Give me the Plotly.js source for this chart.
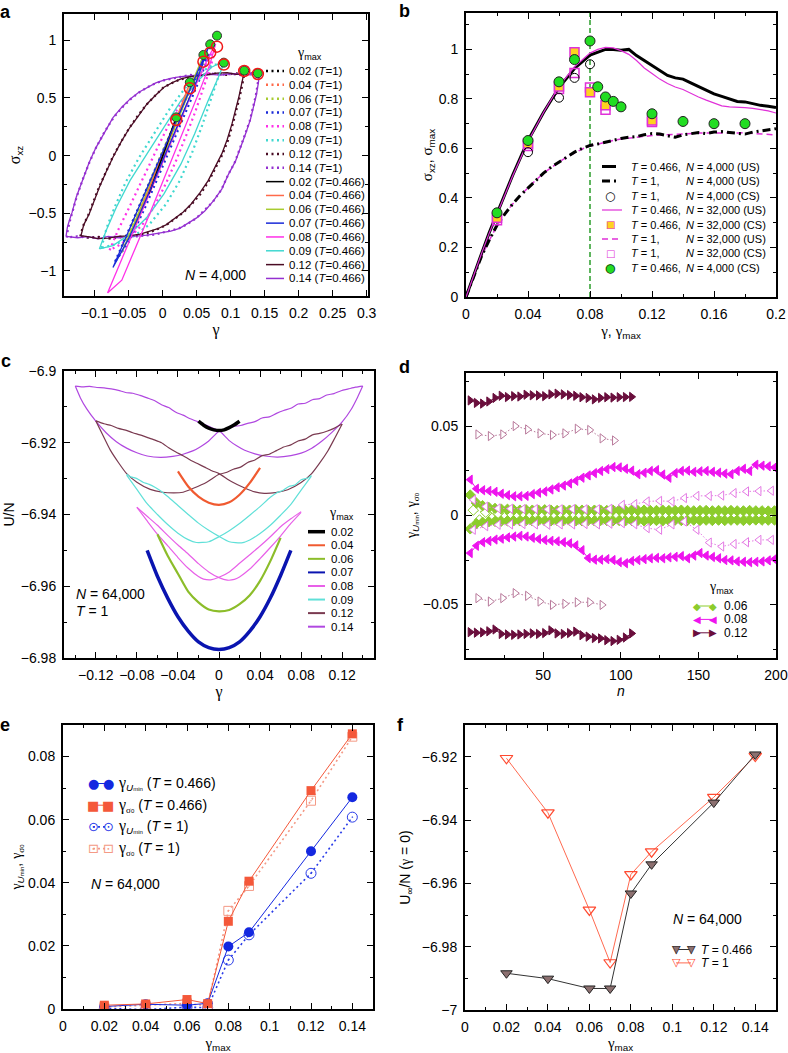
<!DOCTYPE html>
<html><head><meta charset="utf-8">
<script src="https://cdn.plot.ly/plotly-3.0.1.min.js"></script>
<style>html,body{margin:0;padding:0;background:#fff}#chart{width:788px;height:1053px}</style>
</head><body><div id="chart"></div>
<script>
// ---------------- DATA ----------------
const gmaxLabels = ['0.02','0.04','0.06','0.07','0.08','0.09','0.12','0.14'];

// Panel a : stress-strain loops (gamma, sigma_xz), N = 4,000
const a02_T1_g = [-0.020,-0.010,0.000,0.010,0.020,0.010,0.000,-0.010,-0.020];
const a02_T1_s = [-0.31,-0.16,0.00,0.16,0.31,0.15,-0.01,-0.16,-0.31];
const a02_T0466_g = [-0.020,-0.010,0.000,0.010,0.020,0.010,0.000,-0.010,-0.020];
const a02_T0466_s = [-0.33,-0.17,0.00,0.17,0.33,0.16,-0.01,-0.17,-0.33];
const a04_T1_g = [-0.040,-0.020,0.000,0.020,0.040,0.020,0.000,-0.020,-0.040];
const a04_T1_s = [-0.57,-0.28,0.01,0.30,0.585,0.28,-0.02,-0.31,-0.57];
const a04_T0466_g = [-0.040,-0.020,0.000,0.020,0.040,0.020,0.000,-0.020,-0.040];
const a04_T0466_s = [-0.60,-0.30,0.01,0.32,0.63,0.31,-0.01,-0.31,-0.60];
const a06_T1_g = [-0.058,-0.030,0.000,0.030,0.060,0.030,0.000,-0.030,-0.058];
const a06_T1_s = [-0.78,-0.38,0.04,0.44,0.80,0.36,-0.06,-0.46,-0.78];
const a06_T0466_g = [-0.060,-0.030,0.000,0.030,0.060,0.030,0.000,-0.030,-0.060];
const a06_T0466_s = [-0.84,-0.42,0.02,0.45,0.87,0.42,-0.02,-0.45,-0.84];
const a07_T1_g = [-0.070,-0.045,-0.020,0.005,0.030,0.055,0.070,0.050,0.025,0.000,-0.025,-0.050,-0.070];
const a07_T1_s = [-0.92,-0.58,-0.24,0.10,0.44,0.76,0.89,0.60,0.25,-0.10,-0.44,-0.75,-0.92];
const a07_T0466_g = [-0.073,-0.050,-0.025,0.000,0.025,0.050,0.068,0.050,0.025,0.000,-0.025,-0.050,-0.073];
const a07_T0466_s = [-0.97,-0.66,-0.31,0.03,0.37,0.71,0.95,0.65,0.30,-0.05,-0.39,-0.72,-0.97];
const a08_T1_g = [-0.078,-0.065,-0.050,-0.035,-0.020,-0.005,0.010,0.025,0.040,0.055,0.068,0.078,0.070,0.060,0.048,0.035,0.020,0.005,-0.012,-0.030,-0.050,-0.065,-0.078];
const a08_T1_s = [-0.82,-0.64,-0.46,-0.27,-0.08,0.10,0.28,0.44,0.58,0.72,0.84,0.93,0.76,0.58,0.38,0.18,-0.04,-0.24,-0.44,-0.60,-0.72,-0.78,-0.82];
const a08_T0466_g = [-0.081,-0.060,-0.040,-0.020,0.000,0.020,0.040,0.055,0.068,0.078,0.070,0.055,0.040,0.020,0.000,-0.020,-0.040,-0.060,-0.081];
const a08_T0466_s = [-1.19,-0.90,-0.62,-0.34,-0.06,0.22,0.50,0.70,0.86,0.97,0.80,0.57,0.35,0.06,-0.23,-0.52,-0.80,-1.08,-1.19];
const a09_T1_g = [-0.090,-0.082,-0.070,-0.055,-0.035,-0.012,0.012,0.035,0.058,0.075,0.088,0.083,0.072,0.058,0.043,0.025,0.005,-0.020,-0.045,-0.070,-0.090];
const a09_T1_s = [-0.80,-0.62,-0.44,-0.24,-0.02,0.20,0.42,0.60,0.73,0.79,0.79,0.70,0.50,0.26,0.02,-0.22,-0.42,-0.60,-0.71,-0.77,-0.80];
const a09_T0466_g = [-0.093,-0.083,-0.068,-0.048,-0.023,0.002,0.027,0.052,0.072,0.087,0.090,0.082,0.067,0.047,0.027,0.002,-0.023,-0.048,-0.073,-0.093];
const a09_T0466_s = [-0.809,-0.65,-0.448,-0.217,0.015,0.246,0.477,0.65,0.767,0.81,0.80,0.68,0.477,0.188,-0.072,-0.332,-0.534,-0.679,-0.78,-0.809];
const a12_T1_g = [-0.121,-0.117,-0.109,-0.101,-0.094,-0.084,-0.074,-0.061,-0.049,-0.036,-0.024,-0.011,0.001,0.014,0.026,0.039,0.051,0.064,0.079,0.094,0.107,0.121,0.120,0.117,0.113,0.103,0.096,0.088,0.078,0.068,0.056,0.043,0.031,0.018,0.006,-0.007,-0.019,-0.032,-0.049,-0.064,-0.079,-0.094,-0.107,-0.121];
const a12_T1_s = [-0.70,-0.61,-0.51,-0.39,-0.28,-0.15,-0.02,0.12,0.24,0.35,0.44,0.52,0.59,0.63,0.66,0.68,0.695,0.705,0.712,0.70,0.715,0.705,0.70,0.61,0.50,0.27,0.13,0.01,-0.11,-0.22,-0.33,-0.42,-0.49,-0.55,-0.60,-0.635,-0.665,-0.685,-0.70,-0.71,-0.72,-0.705,-0.712,-0.70];
const a12_T0466_g = [-0.120,-0.116,-0.108,-0.100,-0.093,-0.083,-0.073,-0.060,-0.048,-0.035,-0.023,-0.010,0.002,0.015,0.027,0.040,0.052,0.065,0.080,0.095,0.108,0.120,0.119,0.116,0.112,0.102,0.095,0.087,0.077,0.067,0.055,0.042,0.030,0.017,0.005,-0.008,-0.020,-0.033,-0.050,-0.065,-0.080,-0.095,-0.108,-0.120];
const a12_T0466_s = [-0.694,-0.60,-0.506,-0.38,-0.274,-0.14,-0.014,0.13,0.246,0.35,0.448,0.525,0.593,0.635,0.665,0.685,0.69,0.70,0.715,0.72,0.705,0.709,0.70,0.62,0.506,0.275,0.14,0.015,-0.10,-0.217,-0.32,-0.419,-0.49,-0.549,-0.60,-0.636,-0.66,-0.68,-0.695,-0.70,-0.715,-0.72,-0.705,-0.694];
const a14_T1_g = [-0.141,-0.139,-0.136,-0.132,-0.126,-0.117,-0.107,-0.097,-0.085,-0.072,-0.059,-0.047,-0.034,-0.022,-0.009,0.003,0.016,0.028,0.041,0.056,0.071,0.086,0.101,0.116,0.131,0.141,0.140,0.137,0.133,0.128,0.121,0.114,0.106,0.096,0.086,0.074,0.061,0.049,0.036,0.024,0.011,0.001,-0.011,-0.024,-0.036,-0.051,-0.066,-0.081,-0.096,-0.111,-0.126,-0.141];
const a14_T1_s = [-0.71,-0.63,-0.56,-0.48,-0.35,-0.20,-0.05,0.08,0.21,0.33,0.42,0.49,0.55,0.595,0.63,0.655,0.672,0.688,0.70,0.694,0.712,0.702,0.708,0.698,0.715,0.705,0.63,0.52,0.41,0.30,0.18,0.06,-0.06,-0.17,-0.30,-0.40,-0.48,-0.545,-0.595,-0.63,-0.65,-0.668,-0.685,-0.692,-0.70,-0.708,-0.698,-0.715,-0.705,-0.71,-0.70,-0.71];
const a14_T0466_g = [-0.142,-0.140,-0.137,-0.133,-0.127,-0.118,-0.108,-0.098,-0.086,-0.073,-0.060,-0.048,-0.035,-0.023,-0.010,0.002,0.015,0.027,0.040,0.055,0.070,0.085,0.100,0.115,0.130,0.142,0.141,0.138,0.134,0.129,0.122,0.115,0.107,0.097,0.087,0.075,0.062,0.050,0.037,0.025,0.012,0.002,-0.010,-0.023,-0.035,-0.050,-0.065,-0.080,-0.095,-0.110,-0.125,-0.142];
const a14_T0466_s = [-0.70,-0.62,-0.56,-0.49,-0.36,-0.21,-0.06,0.07,0.20,0.33,0.42,0.49,0.55,0.59,0.63,0.655,0.675,0.685,0.694,0.70,0.705,0.698,0.712,0.703,0.700,0.710,0.64,0.53,0.42,0.31,0.19,0.07,-0.05,-0.16,-0.29,-0.39,-0.48,-0.54,-0.59,-0.63,-0.655,-0.665,-0.68,-0.69,-0.695,-0.70,-0.712,-0.700,-0.722,-0.703,-0.712,-0.700];
const a_peak_g = [0.02,0.04,0.06,0.07,0.08,0.09,0.12,0.14];
const a_peak_T0466 = [0.332,0.636,0.873,0.965,1.04,0.806,0.737,0.714];
const a_peak_T1 = [0.309,0.584,0.815,0.893,0.945,0.79,0.734,0.708];

// Panel b : sigma vs gamma
const b_g_us = [0,0.005,0.01,0.015,0.02,0.03,0.04,0.05,0.06,0.07,0.08,0.085,0.09,0.095,0.1,0.105,0.11,0.115,0.12,0.125,0.13,0.135,0.14,0.145,0.15,0.155,0.16,0.165,0.17,0.175,0.18,0.185,0.19,0.195,0.2];
const b_s_T0466_N4000 = [0,0.09,0.175,0.26,0.335,0.49,0.632,0.745,0.846,0.923,0.977,0.99,1.0,1.0,0.997,1.0,0.975,0.955,0.936,0.915,0.895,0.885,0.88,0.865,0.851,0.835,0.82,0.81,0.80,0.79,0.788,0.78,0.774,0.77,0.765];
const b_s_T0466_N32000 = [0,0.09,0.175,0.258,0.333,0.488,0.628,0.745,0.85,0.93,0.985,1.0,1.008,1.006,0.995,0.98,0.955,0.925,0.903,0.88,0.862,0.848,0.838,0.822,0.808,0.795,0.782,0.772,0.768,0.768,0.765,0.762,0.758,0.752,0.743];
const b_g_us1 = [0,0.005,0.01,0.015,0.02,0.025,0.03,0.035,0.04,0.045,0.05,0.055,0.06,0.065,0.07,0.075,0.08,0.085,0.09,0.095,0.1,0.105,0.11,0.115,0.12,0.125,0.13,0.135,0.14,0.145,0.15,0.155,0.16,0.165,0.17,0.175,0.18,0.185,0.19,0.195,0.2];
const b_s_T1_N4000 = [0,0.085,0.165,0.23,0.29,0.335,0.375,0.41,0.44,0.47,0.50,0.525,0.545,0.565,0.585,0.60,0.612,0.618,0.626,0.632,0.64,0.645,0.648,0.655,0.66,0.658,0.652,0.645,0.655,0.66,0.664,0.66,0.666,0.668,0.664,0.66,0.658,0.666,0.67,0.675,0.68];
const b_s_T1_N32000 = [0,0.085,0.163,0.228,0.288,0.335,0.375,0.41,0.442,0.472,0.50,0.523,0.545,0.565,0.583,0.598,0.61,0.618,0.625,0.632,0.638,0.642,0.646,0.65,0.652,0.654,0.656,0.657,0.66,0.66,0.662,0.662,0.663,0.664,0.663,0.662,0.664,0.66,0.658,0.656,0.655];
const b_cs_T1_N4000_g = [0.04,0.06,0.07,0.08];
const b_cs_T1_N4000_s = [0.585,0.805,0.885,0.94];
const b_cs_N32000_g = [0.02,0.04,0.06,0.07,0.08,0.09,0.12];
const b_cs_T0466_N32000_s = [0.32,0.62,0.85,0.988,0.827,0.774,0.713];
const b_cs_T1_N32000_s = [0.31,0.61,0.84,0.905,0.846,0.756,0.707];
const b_cs_T0466_N4000_g = [0.02,0.04,0.06,0.07,0.08,0.085,0.09,0.095,0.1,0.12,0.14,0.16,0.18];
const b_cs_T0466_N4000_s = [0.34,0.632,0.869,0.959,1.034,0.849,0.808,0.79,0.768,0.74,0.709,0.70,0.70];
const gammaYield = 0.08;

// Panel c : U/N vs gamma, N = 64,000, T = 1
const c02_g = [-0.020,-0.015,-0.010,-0.005,0.000,0.005,0.010,0.015,0.020];
const c02_U = [-6.9140,-6.9151,-6.9159,-6.9164,-6.9166,-6.9164,-6.9158,-6.9150,-6.9140];
const c04_g = [-0.040,-0.030,-0.020,-0.010,0.000,0.010,0.020,0.030,0.040];
const c04_U = [-6.9280,-6.9322,-6.9350,-6.9367,-6.9373,-6.9366,-6.9345,-6.9312,-6.9270];
const c06_g = [-0.060,-0.050,-0.040,-0.030,-0.020,-0.010,0.000,0.010,0.020,0.030,0.040,0.050,0.060];
const c06_U = [-6.9455,-6.9515,-6.9565,-6.9615,-6.9645,-6.9665,-6.9670,-6.9666,-6.9650,-6.9625,-6.9585,-6.9530,-6.9465];
const c07_g = [-0.070,-0.060,-0.050,-0.040,-0.030,-0.020,-0.010,0.000,0.010,0.020,0.030,0.040,0.050,0.060,0.070];
const c07_U = [-6.9500,-6.9572,-6.9633,-6.9685,-6.9725,-6.9755,-6.9771,-6.9776,-6.9771,-6.9755,-6.9725,-6.9685,-6.9633,-6.9570,-6.9500];
const c08_fwd_g = [-0.080,-0.070,-0.060,-0.050,-0.040,-0.030,-0.020,-0.015,-0.008,0.000,0.010,0.020,0.030,0.040,0.050,0.060,0.070,0.080];
const c08_fwd_U = [-6.9380,-6.9418,-6.9455,-6.9487,-6.9520,-6.9550,-6.9573,-6.9580,-6.9582,-6.9575,-6.9560,-6.9536,-6.9512,-6.9488,-6.9462,-6.9434,-6.9412,-6.9392];
const c08_rev_g = [0.080,0.070,0.060,0.050,0.040,0.030,0.020,0.015,0.008,0.000,-0.010,-0.020,-0.030,-0.040,-0.050,-0.060,-0.070,-0.080];
const c08_rev_U = [-6.9394,-6.9425,-6.9460,-6.9492,-6.9523,-6.9552,-6.9574,-6.9581,-6.9583,-6.9576,-6.9560,-6.9537,-6.9510,-6.9485,-6.9458,-6.9430,-6.9405,-6.9380];
const c09_fwd_g = [-0.090,-0.080,-0.070,-0.060,-0.050,-0.040,-0.030,-0.022,-0.010,0.000,0.010,0.020,0.030,0.040,0.050,0.056,0.062,0.068,0.074,0.080,0.086,0.090];
const c09_fwd_U = [-6.9290,-6.9330,-6.9370,-6.9400,-6.9428,-6.9452,-6.9470,-6.9478,-6.9476,-6.9462,-6.9445,-6.9425,-6.9402,-6.9378,-6.9352,-6.9340,-6.9333,-6.9322,-6.9318,-6.9303,-6.9299,-6.9291];
const c09_rev_g = [0.090,0.080,0.070,0.060,0.050,0.040,0.030,0.022,0.010,0.000,-0.010,-0.020,-0.030,-0.040,-0.050,-0.056,-0.062,-0.068,-0.074,-0.080,-0.086,-0.090];
const c09_rev_U = [-6.9293,-6.9332,-6.9372,-6.9402,-6.9430,-6.9453,-6.9471,-6.9479,-6.9476,-6.9461,-6.9444,-6.9424,-6.9400,-6.9375,-6.9350,-6.9336,-6.9325,-6.9316,-6.9310,-6.9300,-6.9295,-6.9288];
const c12_fwd_g = [-0.120,-0.113,-0.106,-0.098,-0.090,-0.080,-0.067,-0.055,-0.044,-0.035,-0.025,-0.012,0.000,0.007,0.014,0.021,0.028,0.035,0.042,0.049,0.056,0.063,0.070,0.077,0.084,0.091,0.098,0.105,0.112,0.120];
const c12_fwd_U = [-6.9139,-6.9180,-6.9220,-6.9255,-6.9286,-6.9310,-6.9330,-6.9338,-6.9340,-6.9338,-6.9327,-6.9310,-6.9288,-6.9283,-6.9274,-6.9268,-6.9255,-6.9248,-6.9236,-6.9232,-6.9222,-6.9212,-6.9206,-6.9195,-6.9190,-6.9178,-6.9174,-6.9168,-6.9160,-6.9148];
const c12_rev_g = [0.120,0.113,0.106,0.098,0.090,0.080,0.067,0.055,0.044,0.035,0.025,0.012,0.000,-0.007,-0.014,-0.021,-0.028,-0.035,-0.042,-0.049,-0.056,-0.063,-0.070,-0.077,-0.084,-0.091,-0.098,-0.105,-0.112,-0.120];
const c12_rev_U = [-6.9148,-6.9186,-6.9223,-6.9257,-6.9287,-6.9311,-6.9331,-6.9339,-6.9341,-6.9337,-6.9326,-6.9308,-6.9286,-6.9278,-6.9268,-6.9258,-6.9248,-6.9236,-6.9226,-6.9214,-6.9200,-6.9192,-6.9185,-6.9178,-6.9172,-6.9165,-6.9160,-6.9152,-6.9147,-6.9139];
const c14_fwd_g = [-0.140,-0.135,-0.129,-0.120,-0.110,-0.100,-0.090,-0.080,-0.070,-0.057,-0.045,-0.035,-0.025,-0.018,-0.010,0.000,0.007,0.014,0.021,0.028,0.035,0.042,0.049,0.056,0.063,0.070,0.077,0.084,0.091,0.098,0.105,0.112,0.119,0.126,0.133,0.140];
const c14_fwd_U = [-6.9042,-6.9075,-6.9105,-6.9140,-6.9172,-6.9197,-6.9215,-6.9228,-6.9237,-6.9241,-6.9238,-6.9232,-6.9222,-6.9211,-6.9195,-6.9168,-6.9162,-6.9155,-6.9152,-6.9146,-6.9141,-6.9131,-6.9128,-6.9118,-6.9110,-6.9104,-6.9092,-6.9090,-6.9080,-6.9077,-6.9067,-6.9063,-6.9055,-6.9050,-6.9045,-6.9042];
const c14_rev_g = [0.140,0.135,0.129,0.120,0.110,0.100,0.090,0.080,0.070,0.057,0.045,0.035,0.025,0.018,0.010,0.000,-0.007,-0.014,-0.021,-0.028,-0.035,-0.042,-0.049,-0.056,-0.063,-0.070,-0.077,-0.084,-0.091,-0.098,-0.105,-0.112,-0.119,-0.126,-0.133,-0.140];
const c14_rev_U = [-6.9042,-6.9073,-6.9106,-6.9142,-6.9171,-6.9196,-6.9216,-6.9229,-6.9236,-6.9240,-6.9237,-6.9231,-6.9221,-6.9210,-6.9194,-6.9166,-6.9158,-6.9149,-6.9141,-6.9133,-6.9123,-6.9115,-6.9102,-6.9094,-6.9082,-6.9075,-6.9068,-6.9062,-6.9060,-6.9054,-6.9050,-6.9047,-6.9046,-6.9043,-6.9044,-6.9042];

// Panel d : gamma_Umin, gamma_sigma0 vs cycle n
const d_n_fill = [3,7,11,15,19,23,27,31,35,39,43,47,51,55,59,63,67,71,75,79,83,87,91,95,99,103,107,111,115,119,123,127,131,135,139,143,147,151,155,159,163,167,171,175,179,183,187,191,195,199];
const d_n_open = [5,13,21,29,37,45,53,61,69,77,85,93,101,109,117,125,133,141,149,157,165,173,181,189,197];
const d_n_open_b = [9,17,25,33,41,49,57,65,73,81,89,97,105,113,121,129,137,145,153,161,169,177,185,193,199];
const d06_up = [0.0115,0.0070,0.0055,0.0045,0.0040,0.0036,0.0035,0.0032,0.0030,0.0032,0.0030,0.0030,0.0032,0.0030,0.0028,0.0030,0.0030,0.0032,0.0030,0.0028,0.0030,0.0030,0.0028,0.0030,0.0030,0.0028,0.0030,0.0028,0.0030,0.0028,0.0028,0.0030,0.0028,0.0028,0.0030,0.0028,0.0026,0.0028,0.0028,0.0026,0.0028,0.0026,0.0028,0.0026,0.0026,0.0028,0.0026,0.0026,0.0025,0.0026];
const d06_lo = [-0.0075,-0.0045,-0.0038,-0.0035,-0.0033,-0.0032,-0.0030,-0.0030,-0.0030,-0.0028,-0.0030,-0.0028,-0.0030,-0.0030,-0.0028,-0.0030,-0.0028,-0.0030,-0.0030,-0.0028,-0.0030,-0.0028,-0.0028,-0.0030,-0.0028,-0.0030,-0.0028,-0.0028,-0.0030,-0.0028,-0.0028,-0.0030,-0.0028,-0.0026,-0.0028,-0.0028,-0.0026,-0.0028,-0.0026,-0.0028,-0.0026,-0.0028,-0.0026,-0.0026,-0.0028,-0.0026,-0.0025,-0.0026,-0.0026,-0.0025];
const d06o_up = [0.0030,0.0018,0.0012,0.0010,0.0012,0.0010,0.0008,0.0010,0.0009,0.0010,0.0008,0.0010,0.0009,0.0008,0.0010,0.0008,0.0009,0.0010,0.0008,0.0009,0.0008,0.0010,0.0008,0.0009,0.0008];
const d06o_lo = [-0.0025,-0.0016,-0.0012,-0.0010,-0.0011,-0.0009,-0.0010,-0.0008,-0.0010,-0.0009,-0.0010,-0.0008,-0.0009,-0.0010,-0.0008,-0.0009,-0.0010,-0.0008,-0.0009,-0.0008,-0.0010,-0.0008,-0.0009,-0.0008,-0.0009];
const d08_up = [0.0201,0.0150,0.0142,0.0138,0.0133,0.0122,0.0114,0.0108,0.0108,0.0110,0.0120,0.0128,0.0135,0.0146,0.0158,0.0168,0.0180,0.0195,0.0212,0.0225,0.0238,0.0250,0.0260,0.0272,0.0270,0.0262,0.0252,0.0232,0.0240,0.0250,0.0255,0.0230,0.0212,0.0238,0.0250,0.0252,0.0245,0.0248,0.0250,0.0245,0.0240,0.0235,0.0232,0.0250,0.0262,0.0250,0.0285,0.0280,0.0276,0.0270];
const d08_lo = [-0.0211,-0.0170,-0.0150,-0.0143,-0.0135,-0.0130,-0.0123,-0.0118,-0.0114,-0.0118,-0.0125,-0.0132,-0.0138,-0.0142,-0.0145,-0.0150,-0.0156,-0.0168,-0.0195,-0.0239,-0.0248,-0.0248,-0.0245,-0.0250,-0.0262,-0.0268,-0.0255,-0.0250,-0.0245,-0.0240,-0.0238,-0.0240,-0.0235,-0.0232,-0.0228,-0.0240,-0.0225,-0.0211,-0.0225,-0.0233,-0.0240,-0.0250,-0.0252,-0.0258,-0.0260,-0.0262,-0.0260,-0.0258,-0.0252,-0.0245];
const d08o_up = [0.0088,0.0050,0.0040,0.0038,0.0036,0.0036,0.0035,0.0035,0.0036,0.0035,0.0035,0.0038,0.0060,0.0064,0.0079,0.0082,0.0079,0.0098,0.0110,0.0110,0.0112,0.0126,0.0135,0.0137,0.0139];
const d08o_lo = [-0.0080,-0.0060,-0.0052,-0.0050,-0.0048,-0.0050,-0.0052,-0.0050,-0.0050,-0.0048,-0.0050,-0.0046,-0.0043,-0.0049,-0.0071,-0.0080,-0.0050,-0.0034,-0.0080,-0.0152,-0.0174,-0.0160,-0.0150,-0.0137,-0.0137];
const d_n12_fill = [3,7,11,15,19,23,27,31,35,39,43,47,51,55,59,63,67,71,75,79,83,87,91,95,99,103,107];
const d12_up = [0.0646,0.0632,0.0628,0.0640,0.0660,0.0672,0.0665,0.0670,0.0668,0.0678,0.0675,0.0674,0.0670,0.0680,0.0684,0.0680,0.0676,0.0672,0.0664,0.0660,0.0652,0.0660,0.0664,0.0662,0.0664,0.0665,0.0666];
const d12_lo = [-0.0655,-0.0658,-0.0656,-0.0650,-0.0640,-0.0665,-0.0668,-0.0670,-0.0668,-0.0665,-0.0662,-0.0665,-0.0660,-0.0645,-0.0662,-0.0665,-0.0660,-0.0652,-0.0672,-0.0680,-0.0688,-0.0690,-0.0700,-0.0705,-0.0698,-0.0685,-0.0662];
const d_n12_open_up = [8,16,24,32,40,48,56,64,72,80,88,96];
const d12o_up = [0.0455,0.0446,0.0455,0.0502,0.0483,0.0461,0.0452,0.0461,0.0487,0.0480,0.0433,0.0421];
const d_n12_open_lo = [8,16,24,32,40,48,56,64,72,80,88];
const d12o_lo = [-0.0464,-0.0483,-0.0464,-0.0436,-0.0451,-0.0483,-0.0502,-0.0496,-0.0487,-0.0487,-0.0502];

// Panel e : gamma_Umin, gamma_sigma0 vs gamma_max
const e_gmax = [0.02,0.04,0.06,0.07,0.08,0.09,0.12,0.14];
const e_Umin_T0466 = [0.0008,0.0015,0.0012,0.0018,0.0198,0.0243,0.0500,0.0671];
const e_sig0_T0466 = [0.0012,0.0016,0.0030,0.0017,0.0278,0.0405,0.0692,0.0872];
const e_Umin_T1 = [0.0002,-0.0002,0.0006,0.0004,0.0155,0.0235,0.0430,0.0608];
const e_sig0_T1 = [0.0006,0.0011,0.0018,0.0010,0.0311,0.0390,0.0660,0.0863];

// Panel f : U_inf/N (gamma = 0) vs gamma_max
const f_gmax = [0.02,0.04,0.06,0.07,0.08,0.09,0.12,0.14];
const f_U_T0466 = [-6.9884,-6.9901,-6.9932,-6.9932,-6.9632,-6.9540,-6.9345,-6.9193];
const f_U_T1 = [-6.9205,-6.9377,-6.9684,-6.9850,-6.9572,-6.9500,-6.9328,-6.9198];

// ---------------- STYLE / LAYOUT ----------------
const SANS = 'Liberation Sans, Arial, Helvetica, sans-serif';
const G = sz => '<span style="font-family:Liberation Serif;font-size:' + sz + 'px">γ</span>';
const SG = sz => '<span style="font-family:Liberation Serif;font-size:' + sz + 'px">σ</span>';
const gU = sz => G(sz) + '<sub><i>U</i><span style="font-size:6px">min</span></sub>';
const gS = sz => G(sz) + '<sub>' + SG(9) + '<span style="font-size:6px">0</span></sub>';
const colA = ['#000000','#ff6a4a','#a8cc30','#1a2ad8','#ff30e8','#40d8d0','#4a0c24','#9430d0'];
const colC = ['#000000','#f05a30','#8cbd2a','#0a14b0','#e860e8','#60e0d8','#7a3a50','#b048e0'];
const W = 788, H = 1053;
const X = p => p / W, Y = p => 1 - p / H;

function axis(box, isX, range, dtick, minor, anchor, title, standoff, extra) {
  const dom = isX ? [X(box[0]), X(box[1])] : [Y(box[3]), Y(box[2])];
  return Object.assign({
    domain: dom, range: range, anchor: anchor, tickmode: 'linear', tick0: 0, dtick: dtick,
    showline: true, linewidth: 2, linecolor: '#000', mirror: 'ticks',
    ticks: 'inside', ticklen: 6, tickwidth: 1, tickcolor: '#000',
    minor: {dtick: minor, tick0: 0, ticks: 'inside', ticklen: 3, tickwidth: 1, tickcolor: '#000', showgrid: false},
    showgrid: false, zeroline: false, automargin: false, fixedrange: true,
    ticklabelstandoff: 3,
    tickfont: {family: SANS, size: 14, color: '#000'},
    title: {text: title, standoff: standoff, font: {family: SANS, size: 14, color: '#000'}}
  }, extra || {});
}
const boxA = [64, 368, 14, 296], boxB = [466, 776, 13, 297], boxC = [64, 374, 371, 658],
      boxD = [466, 776, 373, 658], boxE = [63, 373, 725, 1009], boxF = [465, 776, 725, 1010];

const traces = [];
// ---- panel a
const aT1 = [[a02_T1_g,a02_T1_s],[a04_T1_g,a04_T1_s],[a06_T1_g,a06_T1_s],[a07_T1_g,a07_T1_s],[a08_T1_g,a08_T1_s],[a09_T1_g,a09_T1_s],[a12_T1_g,a12_T1_s],[a14_T1_g,a14_T1_s]];
const aT0 = [[a02_T0466_g,a02_T0466_s],[a04_T0466_g,a04_T0466_s],[a06_T0466_g,a06_T0466_s],[a07_T0466_g,a07_T0466_s],[a08_T0466_g,a08_T0466_s],[a09_T0466_g,a09_T0466_s],[a12_T0466_g,a12_T0466_s],[a14_T0466_g,a14_T0466_s]];
const orderA = [7,6,5,4,2,1,0,3];
orderA.forEach(i => traces.push({x: aT1[i][0], y: aT1[i][1], xaxis:'x', yaxis:'y', mode:'lines', line:{color: colA[i], width: 2.2, dash:'2px,3.5px'}, name: gmaxLabels[i] + ' (T=1)'}));
orderA.forEach(i => traces.push({x: aT0[i][0], y: aT0[i][1], xaxis:'x', yaxis:'y', mode:'lines', line:{color: colA[i], width: 1.3}, name: gmaxLabels[i] + ' (T=0.466)'}));
traces.push({x: a_peak_g, y: a_peak_T0466, xaxis:'x', yaxis:'y', mode:'markers', marker:{symbol:'circle', size:9, color:'#22dd22', line:{color:'#333', width:1}}});
traces.push({x: a_peak_g, y: a_peak_T1, xaxis:'x', yaxis:'y', mode:'markers', marker:{symbol:'circle-open', size:11, color:'#f01818', line:{width:1.5}}});

// ---- panel b
traces.push({x: b_g_us1, y: b_s_T1_N32000, xaxis:'x2', yaxis:'y2', mode:'lines', line:{color:'#e030d8', width:1.5, dash:'6px,4px'}});
traces.push({x: b_g_us1, y: b_s_T1_N4000, xaxis:'x2', yaxis:'y2', mode:'lines', line:{color:'#000', width:3, dash:'8px,4px,2px,4px'}});
traces.push({x: b_g_us, y: b_s_T0466_N4000, xaxis:'x2', yaxis:'y2', mode:'lines', line:{color:'#000', width:3}});
traces.push({x: b_g_us, y: b_s_T0466_N32000, xaxis:'x2', yaxis:'y2', mode:'lines', line:{color:'#e030d8', width:1.2}});
traces.push({x: b_cs_N32000_g, y: b_cs_T1_N32000_s, xaxis:'x2', yaxis:'y2', mode:'markers', marker:{symbol:'square-open', size:9, color:'#e030d8', line:{width:1.5}}});
traces.push({x: b_cs_N32000_g, y: b_cs_T0466_N32000_s, xaxis:'x2', yaxis:'y2', mode:'markers', marker:{symbol:'square', size:9, color:'#ffd21f', line:{color:'#e030d8', width:1.5}}});
traces.push({x: b_cs_T1_N4000_g, y: b_cs_T1_N4000_s, xaxis:'x2', yaxis:'y2', mode:'markers', marker:{symbol:'circle-open', size:9, color:'#000', line:{width:1}}});
traces.push({x: b_cs_T0466_N4000_g, y: b_cs_T0466_N4000_s, xaxis:'x2', yaxis:'y2', mode:'markers', marker:{symbol:'circle', size:10, color:'#22dd22', line:{color:'#222', width:1}}});

// ---- panel c
const cSeries = [
  [[c02_g,c02_U]], [[c04_g,c04_U]], [[c06_g,c06_U]], [[c07_g,c07_U]],
  [[c08_fwd_g,c08_fwd_U],[c08_rev_g,c08_rev_U]], [[c09_fwd_g,c09_fwd_U],[c09_rev_g,c09_rev_U]],
  [[c12_fwd_g,c12_fwd_U],[c12_rev_g,c12_rev_U]], [[c14_fwd_g,c14_fwd_U],[c14_rev_g,c14_rev_U]]];
const cWidth = [3.5, 2.2, 2.2, 3.5, 1.2, 1.2, 1.2, 1.2];
[7,6,5,4,3,2,1,0].forEach(i => cSeries[i].forEach(s => traces.push({x: s[0], y: s[1], xaxis:'x3', yaxis:'y3', mode:'lines', line:{color: colC[i], width: cWidth[i], shape:'spline', smoothing:0.6}, name: gmaxLabels[i]})));

// ---- panel d
const cD06 = '#8ccc2c', cD08 = '#ee14ee', cD08o = '#e47ae4', cD12 = '#6a0e3c', cD12o = '#b8789a';
function dTr(x, y, sym, col, filled, dashed) {
  return {x: x, y: y, xaxis:'x4', yaxis:'y4', mode:'lines+markers',
    line:{color: col, width: 1, dash: dashed ? '1.5px,2px' : 'solid'},
    marker:{symbol: sym, size: 8, color: filled ? col : '#fff', line:{color: col, width: 1}}};
}
traces.push(dTr(d_n_open, d06o_up, 'diamond', cD06, false, true));
traces.push(dTr(d_n_open_b, d06o_lo, 'diamond', cD06, false, true));
traces.push(dTr(d_n_fill, d06_up, 'diamond', cD06, true, false));
traces.push(dTr(d_n_fill, d06_lo, 'diamond', cD06, true, false));
traces.push(dTr(d_n_open, d08o_up, 'triangle-left', cD08o, false, true));
traces.push(dTr(d_n_open, d08o_lo, 'triangle-left', cD08o, false, true));
traces.push(dTr(d_n_fill, d08_up, 'triangle-left', cD08, true, false));
traces.push(dTr(d_n_fill, d08_lo, 'triangle-left', cD08, true, false));
traces.push(dTr(d_n12_open_up, d12o_up, 'triangle-right', cD12o, false, true));
traces.push(dTr(d_n12_open_lo, d12o_lo, 'triangle-right', cD12o, false, true));
traces.push(dTr(d_n12_fill, d12_up, 'triangle-right', cD12, true, false));
traces.push(dTr(d_n12_fill, d12_lo, 'triangle-right', cD12, true, false));

// ---- panel e
traces.push({x: e_gmax, y: e_Umin_T1, xaxis:'x5', yaxis:'y5', mode:'lines+markers', line:{color:'#2a3ce8', width:1.6, dash:'2px,3px'}, marker:{symbol:'circle-open-dot', size:10, color:'#2a3ce8', line:{width:1}}});
traces.push({x: e_gmax, y: e_sig0_T1, xaxis:'x5', yaxis:'y5', mode:'lines+markers', line:{color:'#f49a86', width:1.6, dash:'2px,3px'}, marker:{symbol:'square-open-dot', size:9, color:'#f49a86', line:{width:1}}});
traces.push({x: e_gmax, y: e_Umin_T0466, xaxis:'x5', yaxis:'y5', mode:'lines+markers', line:{color:'#1428e0', width:1}, marker:{symbol:'circle', size:10, color:'#1428e0'}});
traces.push({x: e_gmax, y: e_sig0_T0466, xaxis:'x5', yaxis:'y5', mode:'lines+markers', line:{color:'#f4583a', width:1}, marker:{symbol:'square', size:9, color:'#f4583a'}});

// ---- panel f
traces.push({x: f_gmax, y: f_U_T1, xaxis:'x6', yaxis:'y6', mode:'lines+markers', line:{color:'#ff6a50', width:1}, marker:{symbol:'triangle-down-open', size:11, color:'#ff4a30', line:{width:1.2}}});
traces.push({x: f_gmax, y: f_U_T0466, xaxis:'x6', yaxis:'y6', mode:'lines+markers', line:{color:'#333', width:1}, marker:{symbol:'triangle-down', size:10, color:'#8c7070', line:{color:'#222', width:1}}});

// ---------------- legends & text (layout decorations) ----------------
const shapes = [], annotations = [];
function sLine(x0, x1, y, color, width, dash) {
  shapes.push({type:'line', xref:'paper', yref:'paper', x0:X(x0), x1:X(x1), y0:Y(y), y1:Y(y), line:{color:color, width:width, dash:dash || 'solid'}});
}
function txt(x, y, text, size, extra) {
  annotations.push(Object.assign({xref:'paper', yref:'paper', x:X(x), y:Y(y), xanchor:'left', yanchor:'middle', text:text, showarrow:false, borderpad:0, font:{family:SANS, size:size || 12, color:'#000'}}, extra || {}));
}
function glyph(x, y, ch, color, size) {
  annotations.push({xref:'paper', yref:'paper', x:X(x), y:Y(y), xanchor:'center', yanchor:'middle', text:ch, showarrow:false, borderpad:0, font:{family:'DejaVu Sans', size:size, color:color}});
}
// panel letters
[['a',5,12],['b',404,11],['c',6,361],['d',404,367],['e',5,725],['f',400,725]].forEach(l =>
  annotations.push({xref:'paper', yref:'paper', x:X(l[1]), y:Y(l[2]), xanchor:'center', yanchor:'middle', text:'<b>'+l[0]+'</b>', showarrow:false, font:{family:SANS, size:18, color:'#000'}}));

// legend a
txt(296, 53, G(14) + '<sub>max</sub>', 13);
gmaxLabels.forEach((lab, i) => {
  const y = 71 + 13.83 * i;
  sLine(266, 284, y, colA[i], 2.5, '2px,3.5px');
  txt(288, y, lab + ' (<i>T</i>=1)', 11.5);
});
gmaxLabels.forEach((lab, i) => {
  const y = 71 + 13.83 * (i + 8);
  sLine(266, 284, y, colA[i], 1.5);
  txt(288, y, lab + ' (<i>T</i>=0.466)', 11.5);
});
txt(184, 275, '<i>N</i> = 4,000', 14);

// legend b
const bRowsT = ['<i>T</i> = 0.466,', '<i>T</i> = 1,', '<i>T</i> = 1,', '<i>T</i> = 0.466,', '<i>T</i> = 0.466,', '<i>T</i> = 1,', '<i>T</i> = 1,', '<i>T</i> = 0.466,'];
const bRowsN = ['<i>N</i> = 4,000 (US)', '<i>N</i> = 4,000 (US)', '<i>N</i> = 4,000 (CS)', '<i>N</i> = 32,000 (US)', '<i>N</i> = 32,000 (CS)', '<i>N</i> = 32,000 (US)', '<i>N</i> = 32,000 (CS)', '<i>N</i> = 4,000 (CS)'];
const bY = i => 166.5 + 14.5 * i;
bRowsT.forEach((t, i) => { txt(630, bY(i), t, 11); txt(685, bY(i), bRowsN[i], 11); });
sLine(602, 616, bY(0), '#000', 3);
sLine(602, 616, bY(1), '#000', 3, '8px,4px,2px,4px');
glyph(610, bY(2), '○', '#000', 12);
sLine(602, 622, bY(3), '#e030d8', 1.2);
glyph(610, bY(4), '■', '#ffd21f', 10); glyph(610, bY(4), '□', '#e030d8', 10);
sLine(602, 622, bY(5), '#e030d8', 1.5, '6px,4px');
glyph(610, bY(6), '□', '#e030d8', 10);
glyph(610, bY(7), '●', '#22dd22', 12); glyph(610, bY(7), '○', '#222', 12);
shapes.push({type:'line', xref:'x2', yref:'y2 domain', x0:gammaYield, x1:gammaYield, y0:0, y1:1, layer:'below', line:{color:'#2a9d2a', width:1.5, dash:'5px,3px'}});

// legend c
txt(328, 513, G(14) + '<sub>max</sub>', 13);
gmaxLabels.forEach((lab, i) => {
  const y = 531.7 + 13.57 * i;
  sLine(308, 325, y, colC[i], i === 0 ? 3.5 : 2);
  txt(330, y, lab, 11.5);
});
txt(75, 594, '<i>N</i> = 64,000', 14);
txt(75, 611, '<i>T</i> = 1', 14);

// legend d
txt(708, 587, G(14) + '<sub>max</sub>', 13);
[['◆', cD06, '0.06'], ['◀', cD08, '0.08'], ['▶', cD12, '0.12']].forEach((r, i) => {
  const y = 606 + 13.4 * i;
  sLine(697, 713, y, r[1], 1);
  glyph(697, y, r[0], r[1], 10); glyph(713, y, r[0], r[1], 10);
  txt(723, y, r[2], 12);
});

// legend e
const eRows = [
  ['●', '#1428e0', 'solid', gU(16) + ' (<i>T</i> = 0.466)'],
  ['■', '#f4583a', 'solid', gS(16) + ' (<i>T</i> = 0.466)'],
  ['⊙', '#2a3ce8', '2px,3px', gU(16) + ' (<i>T</i> = 1)'],
  ['⊡', '#f49a86', '2px,3px', gS(16) + ' (<i>T</i> = 1)']];
eRows.forEach((r, i) => {
  const y = 783.5 + 21.7 * i;
  sLine(93, 108, y, r[1], r[2] === 'solid' ? 1 : 1.6, r[2]);
  glyph(93, y, r[0], r[1], 13); glyph(108, y, r[0], r[1], 13);
  txt(117, y, r[3], 14);
});
txt(90, 884, '<i>N</i> = 64,000', 14);

// legend f
[['▼', '#8c7070', '#333', '<i>T</i> = 0.466'], ['▽', '#ff4a30', '#ff6a50', '<i>T</i> = 1']].forEach((r, i) => {
  const y = 949.5 + 13.4 * i;
  sLine(676, 691, y, r[2], 1);
  glyph(676, y, r[0], r[1], 11); glyph(691, y, r[0], r[1], 11);
  if (i === 0) { glyph(676, y, '▽', '#222', 11); glyph(691, y, '▽', '#222', 11); }
  txt(700, y, r[3], 12);
});
txt(672, 919, '<i>N</i> = 64,000', 14);

const layout = {
  width: W, height: H, margin: {l:0, r:0, t:0, b:0}, paper_bgcolor:'#fff', plot_bgcolor:'#fff',
  showlegend: false, hovermode: false, font: {family: SANS, color:'#000'},
  xaxis:  axis(boxA, true,  [-0.145, 0.302], 0.05, 0.05, 'y',  G(16), 5),
  yaxis:  axis(boxA, false, [-1.217, 1.228], 0.5, 0.25, 'x',  SG(16) + '<sub>xz</sub>', 5),
  xaxis2: axis(boxB, true,  [0, 0.2], 0.04, 0.02, 'y2', G(15) + ', ' + G(15) + '<sub>max</sub>', 5),
  yaxis2: axis(boxB, false, [0, 1.147], 0.2, 0.1, 'x2', SG(15) + '<sub>xz</sub>, ' + SG(15) + '<sub>max</sub>', 3),
  xaxis3: axis(boxC, true,  [-0.151, 0.151], 0.04, 0.02, 'y3', G(16), 5),
  yaxis3: axis(boxC, false, [-6.98, -6.9], 0.02, 0.01, 'x3', 'U/N', 3),
  xaxis4: axis(boxD, true,  [0.3, 200], 50, 25, 'y4', '<i>n</i>', 3),
  yaxis4: axis(boxD, false, [-0.08, 0.08], 0.05, 0.025, 'x4', gU(14) + ', ' + gS(14), 3),
  xaxis5: axis(boxE, true,  [0, 0.15], 0.02, 0.01, 'y5', G(15) + '<sub>max</sub>', 5),
  yaxis5: axis(boxE, false, [0, 0.09], 0.02, 0.01, 'x5', gU(14) + ', ' + gS(14), 3),
  xaxis6: axis(boxF, true,  [0, 0.15], 0.02, 0.01, 'y6', G(15) + '<sub>max</sub>', 5),
  yaxis6: axis(boxF, false, [-7, -6.91], 0.02, 0.01, 'x6', 'U<sub>∞</sub>/N (' + G(14) + ' = 0)', 8),
  shapes: shapes, annotations: annotations
};
Plotly.newPlot('chart', traces, layout, {staticPlot: true, displayModeBar: false});
</script></body></html>
